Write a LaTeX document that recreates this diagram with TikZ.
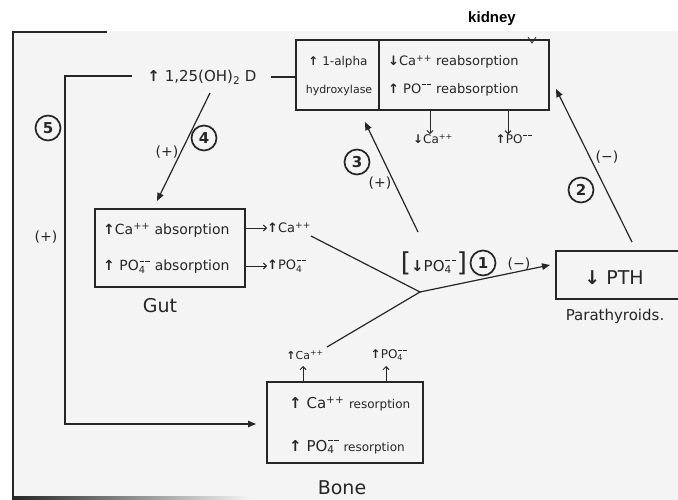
\documentclass[tikz,border=0pt]{standalone}
\usepackage{fontspec}
\setmainfont{DejaVu Sans}
\newfontfamily\headfont{Liberation Sans}
\usetikzlibrary{arrows.meta}
\definecolor{ink}{RGB}{38,38,38}
\definecolor{paper}{RGB}{244,244,244}
% arrows, ions and font sizes used in the labels
\newcommand{\UpA}{\textbf{↑}}
\newcommand{\DnA}{\textbf{↓}}
\newcommand{\ppl}{\textsuperscript{++}}
% two raised charge bars, ruled so that a subscript can sit below them
\newcommand{\mns}{\kern0.05em\raisebox{0.66em}{\rule{0.3em}{0.07em}\kern0.12em\rule{0.3em}{0.07em}}\kern0.05em}
\newcommand{\mmq}{\rlap{\textsubscript{4}}\mns}
\newcommand{\mmn}{\mns}
\newcommand{\fsz}[1]{\fontsize{#1}{#1}\selectfont}
\begin{document}
\begin{tikzpicture}[x=1pt,y=-1pt,
  pen/.style={draw=ink, line width=1.2pt},
  bigarrow/.style={pen, -{Triangle[length=8pt,width=6.5pt]}},
  smallarrow/.style={draw=ink, line width=0.9pt, -{Straight Barb[length=3pt,width=6pt]}},
  boxnode/.style={draw=ink, line width=1.3pt, inner sep=0pt, fill=none},
  circ/.style={circle, draw=ink, line width=1.7pt, minimum size=25pt, inner sep=0pt,
    font=\fsz{15}\bfseries, text=ink},
  txt/.style={inner sep=0pt, text=ink},
  sign/.style={txt, font=\fsz{14}}]
\useasboundingbox (0,0) rectangle (678,500);
% sheet of paper
\fill[white] (0,0) rectangle (678,500);
\fill[paper] (13,31) rectangle (678,500);
\draw[ink, line width=1.6pt] (107,32) -- (13,32) -- (13,500);
\fill[left color=ink, right color=paper] (13,496) rectangle (250,500);

% heading
\node[txt, font=\headfont\bfseries\fsz{15}, text=black] (kidlab) at (492,19) {kidney};

% kidney box
\node[boxnode, minimum width=83pt, minimum height=70pt] (kl) at (337.5,75) {};
\node[boxnode, minimum width=170pt, minimum height=70pt] (kr) at (464,75) {};
\draw[ink, line width=0.8pt] (528,37) -- (532,43) -- (536,37);
\node[txt, font=\fsz{12}] (ka1) at (338,62) {\UpA\ 1-alpha};
\node[txt, font=\fsz{11}] (ka2) at (339,90) {hydroxylase};
\node[txt, font=\fsz{13}, anchor=west] (kb1) at (388,62) {\DnA Ca\ppl\ reabsorption};
\node[txt, font=\fsz{13}, anchor=west] (kb2) at (388,90) {\UpA\ PO\mmn\ reabsorption};

% kidney outputs
\coordinate (kd1) at (430,110);
\coordinate (kd2) at (508,110);
\node[txt, font=\fsz{12}] (kca) at (433,139) {\DnA Ca\ppl};
\node[txt, font=\fsz{12}] (kpo) at (514,139) {\UpA PO\mmn};
\draw[smallarrow] (kd1) -- (kca.north -| kd1);
\draw[smallarrow] (kd2) -- (kpo.north -| kd2);

% vitamin D
\node[txt, font=\fsz{15}] (vitd) at (202,77) {\UpA\ 1,25(OH)\textsubscript{2} D};
\draw[pen] (vitd.east) ++(14,0) coordinate (vr) -- (kl.west |- vr);
\coordinate (v5) at (132,76);
\coordinate (corner1) at (65,76);
\coordinate (corner2) at (65,424);

% gut
\node[boxnode, minimum width=150pt, minimum height=78pt] (gut) at (170,248) {};
\node[txt, font=\fsz{14}, anchor=west] (g1) at (103,230) {\UpA Ca\ppl\ absorption};
\node[txt, font=\fsz{14}, anchor=west] (g2) at (103,267) {\UpA\ PO\mmq\ absorption};
\node[txt, font=\fsz{19}] (gutlab) at (160,306) {Gut};
\node[txt, font=\fsz{13}, anchor=west] (gca) at (267,228) {\UpA Ca\ppl};
\node[txt, font=\fsz{13}, anchor=west] (gpo) at (267,266) {\UpA PO\mmq};
\draw[smallarrow] (gut.east |- gca) -- (gca.west);
\draw[smallarrow] (gut.east |- gpo) -- (gpo.west);

% bone
\node[boxnode, minimum width=156pt, minimum height=81pt] (bone) at (345,422.5) {};
\node[txt, anchor=west] (b1) at (289,404) {\fsz{15}\UpA\ Ca\ppl\ \fsz{12}resorption};
\node[txt, anchor=west] (b2) at (289,447) {\fsz{15}\UpA\ PO\mmq\fsz{12} resorption};
\node[txt, font=\fsz{19}] (bonelab) at (342,488) {Bone};
\node[txt, font=\fsz{11}] (bca) at (305,355) {\UpA Ca\ppl};
\node[txt, font=\fsz{12}] (bpo) at (389,355) {\UpA PO\mmq};
\draw[smallarrow] (303,382) -- (303,366);
\draw[smallarrow] (386,382) -- (386,366);

% parathyroids
\node[boxnode, minimum width=126pt, minimum height=48pt] (pth) at (619,275) {};
\node[txt, font=\fsz{19}] (pthtext) at (614,278) {\DnA\ PTH};
\node[txt, font=\fsz{15}] (pthlab) at (615,316) {Parathyroids.};

% phosphate level and junction
\node[txt, font=\fsz{15}] (phos) at (434,263) {{\fsz{26}[}\DnA PO\mmq{\fsz{26}]}};
\coordinate (J) at (420,292);
\coordinate (gcaend) at (311,236);
\coordinate (bcaend) at (327,347);
\draw[pen] (gcaend) -- (J) -- (bcaend);

% feedback arrows
\coordinate (a1) at (550,265);
\draw[bigarrow] (J) -- (a1);
\coordinate (p3) at (418,232);
\coordinate (a3) at (365,122);
\draw[bigarrow] (p3) -- (a3);
\coordinate (p2) at (632,242);
\coordinate (a2) at (556,89);
\draw[bigarrow] (p2) -- (a2);
\coordinate (p4) at (210,93);
\coordinate (a4) at (157,201);
\draw[bigarrow] (p4) -- (a4);
\coordinate (a5) at (256,424);
\draw[bigarrow] (v5) -- (corner1) -- (corner2) -- (a5);

% step numbers and signs
\node[circ] (n1) at (483,263) {1};
\node[circ] (n2) at (581,190) {2};
\node[circ] (n3) at (357,162) {3};
\node[circ] (n4) at (204,138) {4};
\node[circ] (n5) at (48,128) {5};
\node[sign] (s1) at (519,264) {(−)};
\node[sign] (s2) at (607,157) {(−)};
\node[sign] (s3) at (380,183) {(+)};
\node[sign] (s4) at (167,152) {(+)};
\node[sign] (s5) at (46,237) {(+)};
\end{tikzpicture}
\end{document}
